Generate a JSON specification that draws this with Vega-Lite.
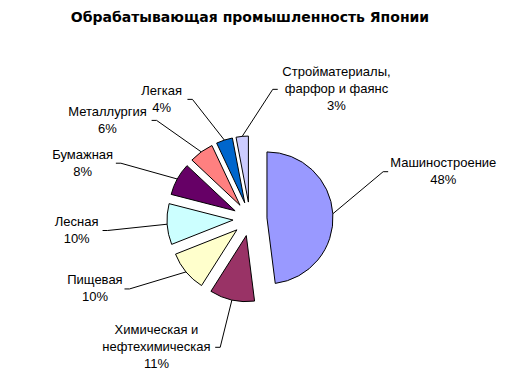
{
  "$schema": "https://vega.github.io/schema/vega-lite/v6.json",
  "width": 500,
  "height": 330,
  "autosize": "none",
  "padding": {"left": 0, "top": 54, "right": 5, "bottom": 0},
  "background": "white",
  "title": {"text": "Обрабатывающая промышленность Японии", "font": "DejaVu Sans", "fontSize": 14, "fontWeight": "bold", "color": "black", "anchor": "middle", "offset": 29},
  "config": {"view": {"stroke": null}},
  "data": {"values": [
    {"name": "Машиностроение", "value": 48},
    {"name": "Химическая и\nнефтехимическая", "value": 11},
    {"name": "Пищевая", "value": 10},
    {"name": "Лесная", "value": 10},
    {"name": "Бумажная", "value": 8},
    {"name": "Металлургия", "value": 6},
    {"name": "Легкая", "value": 4},
    {"name": "Стройматериалы,\nфарфор и фаянс", "value": 3}
  ]},
  "transform": [
    {"window": [{"op": "sum", "field": "value", "as": "cum"}], "frame": [null, 0]},
    {"calculate": "datum.cum - datum.value", "as": "v0"},
    {"calculate": "datum.cum - datum.value / 2", "as": "mid"},
    {"calculate": "2 * PI * datum.mid / 100", "as": "am"},
    {"calculate": "17 * sin(datum.am)", "as": "ex"},
    {"calculate": "17 * cos(datum.am)", "as": "ey"},
    {"calculate": "83 * sin(datum.am)", "as": "sx"},
    {"calculate": "83 * cos(datum.am)", "as": "sy"},
    {"calculate": "PI / 180 * (datum.mid <= 53.5 ? 69 + (datum.mid - 24) * 4.2237 : datum.mid <= 64 ? 193.6 + (datum.mid - 53.5) * 4.2286 : datum.mid <= 74 ? 238 + (datum.mid - 64) * 2.7 : datum.mid <= 95 ? 265 + (datum.mid - 74) * 3.3333 : 335 + (datum.mid - 95) * 10.229)", "as": "al"},
    {"calculate": "148 * sin(datum.al)", "as": "lx"},
    {"calculate": "132 * cos(datum.al)", "as": "ly"},
    {"calculate": "datum.lx >= 0 ? 1 : -1", "as": "side"},
    {"calculate": "3.65 * max(length(split(datum.name, '\\n')[0]), length(split(datum.name, '\\n')[1] || ''))", "as": "hw"},
    {"calculate": "datum.lx + datum.side * (datum.hw + 4)", "as": "cx"},
    {"calculate": "datum.lx - datum.side * 5", "as": "kx"},
    {"calculate": "datum.name + '\\n' + datum.value + '%'", "as": "label"},
    {"calculate": "datum.ly + (length(split(datum.label, '\\n')) - 1) * 8.5", "as": "cy"}
  ],
  "layer": [
    {
      "mark": {"type": "arc", "radius": 66, "stroke": "black", "strokeWidth": 1},
      "encoding": {
        "theta": {"field": "v0", "type": "quantitative", "scale": {"domain": [0, 100]}},
        "theta2": {"field": "cum"},
        "x": {"field": "ex", "type": "quantitative", "scale": {"domain": [-250, 250], "nice": false, "zero": false}, "axis": null},
        "y": {"field": "ey", "type": "quantitative", "scale": {"domain": [-165, 165], "nice": false, "zero": false}, "axis": null},
        "color": {"field": "name", "type": "nominal", "legend": null, "scale": {
          "domain": ["Машиностроение", "Химическая и\nнефтехимическая", "Пищевая", "Лесная", "Бумажная", "Металлургия", "Легкая", "Стройматериалы,\nфарфор и фаянс"],
          "range": ["#9999FF", "#993366", "#FFFFCC", "#CCFFFF", "#660066", "#FF8080", "#0066CC", "#CCCCFF"]}}
      }
    },
    {
      "mark": {"type": "rule", "color": "black", "strokeWidth": 1},
      "encoding": {
        "x": {"field": "sx", "type": "quantitative", "scale": {"domain": [-250, 250], "nice": false, "zero": false}, "axis": null},
        "y": {"field": "sy", "type": "quantitative", "scale": {"domain": [-165, 165], "nice": false, "zero": false}, "axis": null},
        "x2": {"field": "kx"},
        "y2": {"field": "ly"}
      }
    },
    {
      "mark": {"type": "rule", "color": "black", "strokeWidth": 1},
      "encoding": {
        "x": {"field": "kx", "type": "quantitative", "scale": {"domain": [-250, 250], "nice": false, "zero": false}, "axis": null},
        "y": {"field": "ly", "type": "quantitative", "scale": {"domain": [-165, 165], "nice": false, "zero": false}, "axis": null},
        "x2": {"field": "lx"},
        "y2": {"field": "ly"}
      }
    },
    {
      "mark": {"type": "text", "font": "Liberation Sans", "fontSize": 13, "lineBreak": "\n", "lineHeight": 17, "align": "center", "baseline": "middle", "color": "black"},
      "encoding": {
        "x": {"field": "cx", "type": "quantitative", "scale": {"domain": [-250, 250], "nice": false, "zero": false}, "axis": null},
        "y": {"field": "cy", "type": "quantitative", "scale": {"domain": [-165, 165], "nice": false, "zero": false}, "axis": null},
        "text": {"field": "label"}
      }
    }
  ]
}
